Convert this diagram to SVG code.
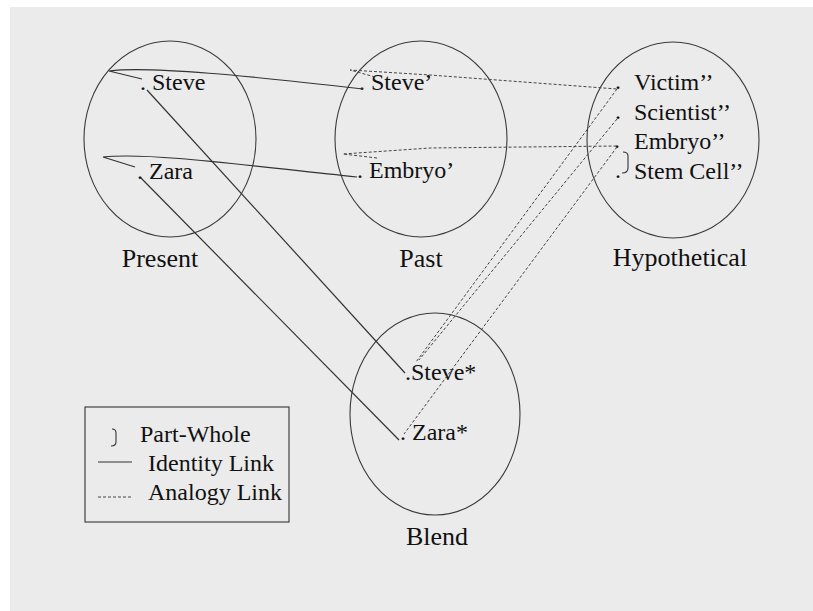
<svg xmlns="http://www.w3.org/2000/svg" width="813" height="611" viewBox="0 0 813 611">
<style>
.bg{fill:#ffffff}
.panel{fill:#ebebeb}
.space{fill:none;stroke:#3a3a3a;stroke-width:1.1}
.id{fill:none;stroke:#333;stroke-width:1.2}
.an{fill:none;stroke:#444;stroke-width:1;stroke-dasharray:3,2}
.pw{fill:none;stroke:#333;stroke-width:1.1}
.lbl{font-size:24px}
.ttl{font-size:26px}
.leg{font-size:24px}
</style>
<rect class="bg" x="0" y="0" width="813" height="611"/>
<rect class="panel" x="10" y="7" width="803" height="604"/>

<g font-family="'Liberation Serif', 'Times New Roman', 'DejaVu Serif', serif" fill="#111">
<g id="present">
<ellipse class="space" cx="170" cy="139" rx="86" ry="98"/>
<text class="ttl" x="160" y="267" text-anchor="middle">Present</text>
<text class="lbl" x="140" y="90">. Steve</text>
<text class="lbl" x="137" y="179">. Zara</text>
</g>

<g id="past">
<ellipse class="space" cx="421" cy="139" rx="86" ry="98"/>
<text class="ttl" x="421" y="267" text-anchor="middle">Past</text>
<text class="lbl" x="359" y="90">. Steve’</text>
<text class="lbl" x="357" y="178">. Embryo’</text>
</g>

<g id="hypothetical">
<ellipse class="space" cx="673" cy="140" rx="86" ry="98"/>
<text class="ttl" x="680" y="266" text-anchor="middle">Hypothetical</text>
<text class="lbl" x="615" y="89">.</text>
<text class="lbl" x="634" y="90">Victim’’</text>
<text class="lbl" x="615" y="119">.</text>
<text class="lbl" x="634" y="120">Scientist’’</text>
<text class="lbl" x="614" y="148">.</text>
<text class="lbl" x="634" y="149">Embryo’’</text>
<text class="lbl" x="615" y="178">.</text>
<text class="lbl" x="634" y="179">Stem Cell’’</text>
<path class="pw" d="M623,152 Q628,152 628,156 L628,168 Q628,173 622,173"/>
</g>

<g id="blend">
<ellipse class="space" cx="435" cy="414" rx="85" ry="101"/>
<text class="ttl" x="437" y="545" text-anchor="middle">Blend</text>
<text class="lbl" x="405" y="380">.Steve*</text>
<text class="lbl" x="400" y="440">. Zara*</text>
</g>

<g id="legend">
<rect x="85" y="407" width="204" height="115" fill="none" stroke="#333" stroke-width="1.1"/>
<path class="pw" d="M112,429 Q116,429 116,433 L116,442 Q116,446 111,446"/>
<text class="leg" x="140" y="442">Part-Whole</text>
<line class="id" x1="98" y1="462" x2="132" y2="462"/>
<text class="leg" x="148" y="471">Identity Link</text>
<line class="an" x1="98" y1="497" x2="132" y2="497"/>
<text class="leg" x="148" y="500">Analogy Link</text>
</g>
</g>

<g id="connectors">
<path class="id" d="M142,79 L109,71 C150,66 250,76 363,89"/>
<path class="id" d="M135,167 L103,157 C150,152 250,166 357,177"/>
<line class="id" x1="147" y1="90" x2="405" y2="373"/>
<line class="id" x1="141" y1="178" x2="399" y2="440"/>
<path class="an" d="M375,77 L350,70 L430,75 L617,89"/>
<path class="an" d="M377,158 L343,154 L430,148 L617,146"/>
<line class="an" x1="617" y1="89" x2="416" y2="362"/>
<line class="an" x1="617" y1="119" x2="419" y2="360"/>
<line class="an" x1="617" y1="147" x2="404" y2="434"/>
</g>
</svg>
